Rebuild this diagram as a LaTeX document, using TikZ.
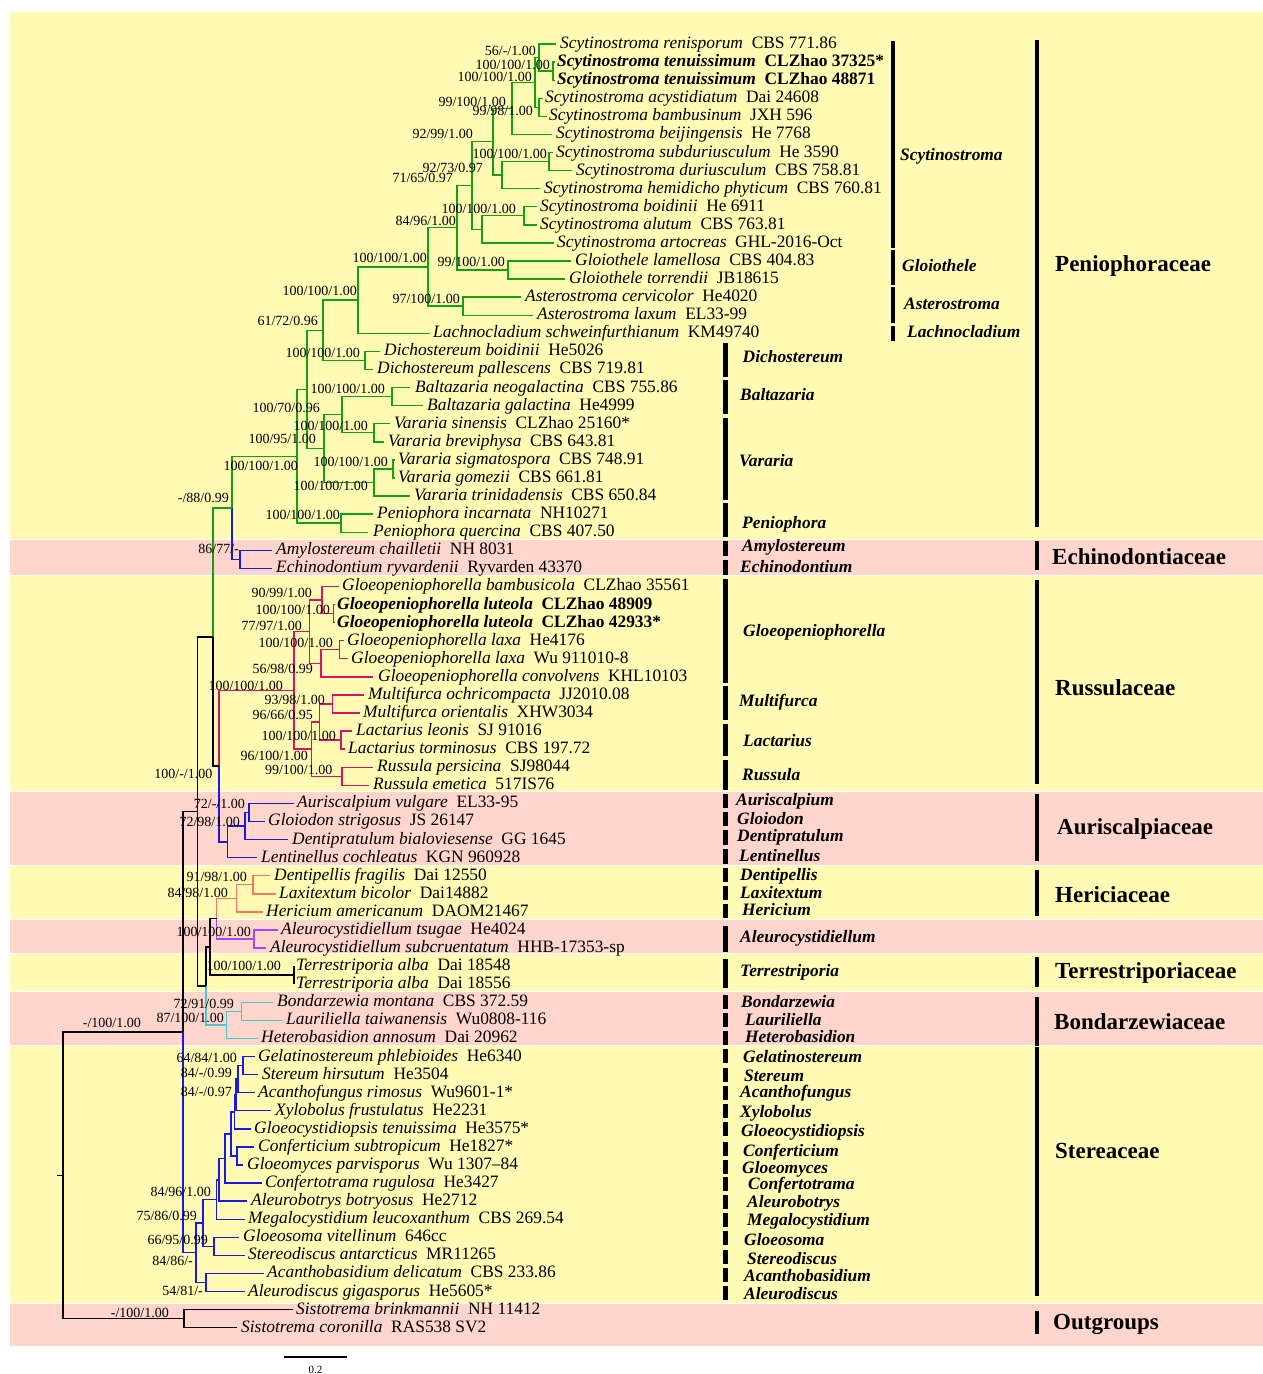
\documentclass[tikz,border=0pt]{standalone}
\usepackage{fontspec}
\setmainfont{Liberation Serif}
\definecolor{bgy}{RGB}{255,250,180}
\definecolor{bgp}{RGB}{255,213,204}
\definecolor{colG}{RGB}{20,160,20}
\definecolor{colB}{RGB}{25,25,230}
\definecolor{colM}{RGB}{215,20,100}
\definecolor{colS}{RGB}{255,115,95}
\definecolor{colV}{RGB}{165,70,255}
\definecolor{colC}{RGB}{70,200,210}
\tikzset{
 br/.style={line width=1.4pt},
 taxon/.style={anchor=base west, inner sep=0pt, font=\fontsize{17.4}{20}\selectfont},
 taxonb/.style={anchor=base west, inner sep=0pt, font=\fontsize{17.4}{20}\selectfont\bfseries},
 lbl/.style={anchor=base east, inner sep=0pt, font=\fontsize{14}{16}\selectfont},
 genus/.style={anchor=base west, inner sep=0pt, font=\fontsize{17.4}{20}\selectfont\bfseries\itshape},
 fam/.style={anchor=base west, inner sep=0pt, font=\fontsize{23}{26}\selectfont\bfseries},
 gbar/.style={line width=4.2pt},
 bandy/.style={fill=bgy, draw=none},
 bandp/.style={fill=bgp, draw=none},
}
\newcommand\lf[6]{\coordinate (#1) at (#2,#4); \node[taxon] (#1t) at (#3,#4+4.5) {\textit{#5}\hspace{0.5em}#6};}
\newcommand\lfb[6]{\coordinate (#1) at (#2,#4); \node[taxonb] (#1t) at (#3,#4+4.5) {\textit{#5}\hspace{0.5em}#6};}
\newcommand\nd[3]{\coordinate (#1) at (#2,#3);}
\newcommand\cn[3]{\draw[br,#3] (#1) |- (#2);}
\newcommand\bs[4]{\node[lbl] (#1) at (#2,#3+4.7) {#4};}
\newcommand\gen[7]{\coordinate (#1a) at (#2,#3); \coordinate (#1b) at (#2,#4); \draw[gbar] (#1a) -- (#1b); \node[genus] (#1) at (#5,#6+5.6) {#7};}
\newcommand\fml[7]{\coordinate (#1a) at (#2,#3); \coordinate (#1b) at (#2,#4); \draw[gbar] (#1a) -- (#1b); \node[fam] (#1) at (#5,#6+7.6) {#7};}
\begin{document}
\begin{tikzpicture}[x=1pt,y=-1pt]
\useasboundingbox (0,0) rectangle (1263,1374);
% background bands
\path[bandy] (10,12) rectangle (1263,538.5);
\path[bandp] (10,539.5) rectangle (1263,574.5);
\path[bandy] (10,575.5) rectangle (1263,790.5);
\path[bandp] (10,791.5) rectangle (1263,865);
\path[bandy] (10,866) rectangle (1263,918.5);
\path[bandp] (10,919.5) rectangle (1263,953);
\path[bandy] (10,954) rectangle (1263,990.7);
\path[bandp] (10,991.7) rectangle (1263,1044.5);
\path[bandy] (10,1045.5) rectangle (1263,1302.5);
\path[bandp] (10,1303.5) rectangle (1263,1346);

% leaves
\lf{L1}{556}{560}{44.0}{Scytinostroma renisporum}{CBS 771.86}
\lfb{L2}{555}{557}{62.1}{Scytinostroma tenuissimum}{CLZhao 37325*}
\lfb{L3}{555}{557}{80.2}{Scytinostroma tenuissimum}{CLZhao 48871}
\lf{L4}{543}{545}{98.2}{Scytinostroma acystidiatum}{Dai 24608}
\lf{L5}{547}{549}{116.3}{Scytinostroma bambusinum}{JXH 596}
\lf{L6}{552}{556}{134.4}{Scytinostroma beijingensis}{He 7768}
\lf{L7}{553}{556}{152.5}{Scytinostroma subduriusculum}{He 3590}
\lf{L8}{572}{576}{170.6}{Scytinostroma duriusculum}{CBS 758.81}
\lf{L9}{540}{544}{188.6}{Scytinostroma hemidicho phyticum}{CBS 760.81}
\lf{L10}{537}{540}{206.7}{Scytinostroma boidinii}{He 6911}
\lf{L11}{537}{540}{224.8}{Scytinostroma alutum}{CBS 763.81}
\lf{L12}{554}{557}{242.9}{Scytinostroma artocreas}{GHL-2016-Oct}
\lf{L13}{571}{575}{261.0}{Gloiothele lamellosa}{CBS 404.83}
\lf{L14}{565}{569}{279.0}{Gloiothele torrendii}{JB18615}
\lf{L15}{521}{525}{297.1}{Asterostroma cervicolor}{He4020}
\lf{L16}{533}{537}{315.2}{Asterostroma laxum}{EL33-99}
\lf{L17}{430}{433}{333.3}{Lachnocladium schweinfurthianum}{KM49740}
\lf{L18}{380}{384}{351.4}{Dichostereum boidinii}{He5026}
\lf{L19}{373}{377}{369.4}{Dichostereum pallescens}{CBS 719.81}
\lf{L20}{410}{415}{387.5}{Baltazaria neogalactina}{CBS 755.86}
\lf{L21}{423}{427}{405.6}{Baltazaria galactina}{He4999}
\lf{L22}{390}{394}{423.7}{Vararia sinensis}{CLZhao 25160*}
\lf{L23}{384}{388}{441.8}{Vararia breviphysa}{CBS 643.81}
\lf{L24}{395}{398}{459.8}{Vararia sigmatospora}{CBS 748.91}
\lf{L25}{395}{398}{477.9}{Vararia gomezii}{CBS 661.81}
\lf{L26}{410}{414}{496.0}{Vararia trinidadensis}{CBS 650.84}
\lf{L27}{373}{377}{514.1}{Peniophora incarnata}{NH10271}
\lf{L28}{368}{373}{532.2}{Peniophora quercina}{CBS 407.50}
\lf{L29}{272}{276}{550.2}{Amylostereum chailletii}{NH 8031}
\lf{L30}{272}{276}{568.3}{Echinodontium ryvardenii}{Ryvarden 43370}
\lf{L31}{339}{342}{586.4}{Gloeopeniophorella bambusicola}{CLZhao 35561}
\lfb{L32}{335}{337}{604.5}{Gloeopeniophorella luteola}{CLZhao 48909}
\lfb{L33}{335}{337}{622.6}{Gloeopeniophorella luteola}{CLZhao 42933*}
\lf{L34}{344}{347}{640.6}{Gloeopeniophorella laxa}{He4176}
\lf{L35}{348}{351}{658.7}{Gloeopeniophorella laxa}{Wu 911010-8}
\lf{L36}{373}{378}{676.8}{Gloeopeniophorella convolvens}{KHL10103}
\lf{L37}{364}{368}{694.9}{Multifurca ochricompacta}{JJ2010.08}
\lf{L38}{360}{363}{713.0}{Multifurca orientalis}{XHW3034}
\lf{L39}{352}{356}{731.0}{Lactarius leonis}{SJ 91016}
\lf{L40}{345}{348}{749.1}{Lactarius torminosus}{CBS 197.72}
\lf{L41}{373}{377}{767.2}{Russula persicina}{SJ98044}
\lf{L42}{369}{373}{785.3}{Russula emetica}{517IS76}
\lf{L43}{294}{297}{803.4}{Auriscalpium vulgare}{EL33-95}
\lf{L44}{265}{268}{821.4}{Gloiodon strigosus}{JS 26147}
\lf{L45}{288}{292}{839.5}{Dentipratulum bialoviesense}{GG 1645}
\lf{L46}{257}{261}{857.6}{Lentinellus cochleatus}{KGN 960928}
\lf{L47}{270}{274}{875.7}{Dentipellis fragilis}{Dai 12550}
\lf{L48}{276}{279}{893.8}{Laxitextum bicolor}{Dai14882}
\lf{L49}{263}{266}{911.8}{Hericium americanum}{DAOM21467}
\lf{L50}{278}{281}{929.9}{Aleurocystidiellum tsugae}{He4024}
\lf{L51}{266}{270}{948.0}{Aleurocystidiellum subcruentatum}{HHB-17353-sp}
\lf{L52}{293.5}{296}{966.1}{Terrestriporia alba}{Dai 18548}
\lf{L53}{293.5}{296}{984.2}{Terrestriporia alba}{Dai 18556}
\lf{L54}{273}{277}{1002.2}{Bondarzewia montana}{CBS 372.59}
\lf{L55}{283}{286}{1020.3}{Lauriliella taiwanensis}{Wu0808-116}
\lf{L56}{258}{261}{1038.4}{Heterobasidion annosum}{Dai 20962}
\lf{L57}{255}{258}{1056.5}{Gelatinostereum phlebioides}{He6340}
\lf{L58}{258}{262}{1074.6}{Stereum hirsutum}{He3504}
\lf{L59}{255}{258}{1092.6}{Acanthofungus rimosus}{Wu9601-1*}
\lf{L60}{271}{275}{1110.7}{Xylobolus frustulatus}{He2231}
\lf{L61}{251}{254}{1128.8}{Gloeocystidiopsis tenuissima}{He3575*}
\lf{L62}{254}{258}{1146.9}{Conferticium subtropicum}{He1827*}
\lf{L63}{243}{247}{1165.0}{Gloeomyces parvisporus}{Wu 1307--84}
\lf{L64}{262}{265}{1183.0}{Confertotrama rugulosa}{He3427}
\lf{L65}{247}{251}{1201.1}{Aleurobotrys botryosus}{He2712}
\lf{L66}{245}{248}{1219.2}{Megalocystidium leucoxanthum}{CBS 269.54}
\lf{L67}{239}{243}{1237.3}{Gloeosoma vitellinum}{646cc}
\lf{L68}{245}{248}{1255.4}{Stereodiscus antarcticus}{MR11265}
\lf{L69}{264}{267}{1273.4}{Acanthobasidium delicatum}{CBS 233.86}
\lf{L70}{245}{248}{1291.5}{Aleurodiscus gigasporus}{He5605*}
\lf{L71}{293}{296}{1309.6}{Sistotrema brinkmannii}{NH 11412}
\lf{L72}{237}{241}{1327.7}{Sistotrema coronilla}{RAS538 SV2}

% internal nodes
\nd{n23}{553}{71.15}
\nd{nA}{539}{57.6}
\nd{n45}{539}{107.25}
\nd{nB}{535}{82.4}
\nd{nC}{512}{108.4}
\nd{n78}{549}{161.55}
\nd{nE}{502}{175.1}
\nd{nD}{493}{141.75}
\nd{n1011}{524}{215.75}
\nd{nG}{482}{229.3}
\nd{nF}{472}{185.5}
\nd{n1314}{508}{270}
\nd{nH}{457}{227.75}
\nd{n1516}{463}{306.15}
\nd{nI}{428}{266.95}
\nd{nJ}{358}{300.1}
\nd{n1819}{365}{360.4}
\nd{nK}{323}{330.25}
\nd{n2021}{392}{396.55}
\nd{n2223}{374}{432.75}
\nd{nM}{342}{414.65}
\nd{n2425}{393}{468.85}
\nd{nN}{374}{482.4}
\nd{nO}{324}{448.5}
\nd{nR}{307}{389.4}
\nd{n2728}{341}{523.15}
\nd{nS}{297}{456.3}
\nd{n2930}{240}{559.25}
\nd{nT}{232}{507.8}
\nd{n3233}{333.5}{613.55}
\nd{nGa}{322}{600}
\nd{n3435}{339.5}{649.65}
\nd{nGb}{321}{663.2}
\nd{nGc}{309.6}{631.6}
\nd{nMf}{332.5}{703.95}
\nd{nLa}{341}{740.05}
\nd{nML}{319.5}{722}
\nd{nRu}{342}{776.25}
\nd{nMLR}{311.4}{749.1}
\nd{nRuss}{294}{690.35}
\nd{nAG}{249}{812.4}
\nd{nAGD}{245}{825.95}
\nd{nAu}{227.4}{841.8}
\nd{nW}{219}{766.1}
\nd{nU}{213}{636.95}
\nd{nDL}{253}{884.75}
\nd{nHe}{236.5}{898.3}
\nd{nAle}{254}{938.95}
\nd{nHA}{216.6}{918.6}
\nd{nTe}{293.5}{975.15}
\nd{nX}{210}{946.9}
\nd{nBL}{241.7}{1011.25}
\nd{nBo}{226.7}{1024.8}
\nd{nY}{206}{985.85}
\nd{nV}{197.7}{811.4}
\nd{nGS}{243}{1065.55}
\nd{nGSA}{238}{1079.1}
\nd{nNa}{236}{1094.9}
\nd{nP}{234.5}{1111.85}
\nd{nCG}{237}{1155.95}
\nd{nNc}{231}{1133.9}
\nd{nNd}{225}{1158.45}
\nd{nNe}{219}{1179.8}
\nd{nNf}{216.5}{1199.5}
\nd{nGs}{214}{1246.35}
\nd{nNg}{203}{1222.9}
\nd{nAa}{206}{1282.45}
\nd{nNh}{196}{1252.7}
\nd{nZ}{183}{1032.05}
\nd{nSi}{184}{1318.65}
\nd{nRoot}{63}{1175.35}
\nd{rootstem}{57}{1175.35}

% connectors: Peniophoraceae
\cn{n23}{L2}{colG}\cn{n23}{L3}{colG}
\cn{nA}{L1}{colG}\cn{nA}{n23}{colG}
\cn{n45}{L4}{colG}\cn{n45}{L5}{colG}
\cn{nB}{nA}{colG}\cn{nB}{n45}{colG}
\cn{nC}{nB}{colG}\cn{nC}{L6}{colG}
\cn{n78}{L7}{colG}\cn{n78}{L8}{colG}
\cn{nE}{n78}{colG}\cn{nE}{L9}{colG}
\cn{nD}{nC}{colG}\cn{nD}{nE}{colG}
\cn{n1011}{L10}{colG}\cn{n1011}{L11}{colG}
\cn{nG}{n1011}{colG}\cn{nG}{L12}{colG}
\cn{nF}{nD}{colG}\cn{nF}{nG}{colG}
\cn{n1314}{L13}{colG}\cn{n1314}{L14}{colG}
\cn{nH}{nF}{colG}\cn{nH}{n1314}{colG}
\cn{n1516}{L15}{colG}\cn{n1516}{L16}{colG}
\cn{nI}{nH}{colG}\cn{nI}{n1516}{colG}
\cn{nJ}{nI}{colG}\cn{nJ}{L17}{colG}
\cn{n1819}{L18}{colG}\cn{n1819}{L19}{colG}
\cn{nK}{nJ}{colG}\cn{nK}{n1819}{colG}
\cn{n2021}{L20}{colG}\cn{n2021}{L21}{colG}
\cn{n2223}{L22}{colG}\cn{n2223}{L23}{colG}
\cn{nM}{n2021}{colG}\cn{nM}{n2223}{colG}
\cn{n2425}{L24}{colG}\cn{n2425}{L25}{colG}
\cn{nN}{n2425}{colG}\cn{nN}{L26}{colG}
\cn{nO}{nM}{colG}\cn{nO}{nN}{colG}
\cn{nR}{nK}{colG}\cn{nR}{nO}{colG}
\cn{n2728}{L27}{colG}\cn{n2728}{L28}{colG}
\cn{nS}{nR}{colG}\cn{nS}{n2728}{colG}
\cn{n2930}{L29}{colB}\cn{n2930}{L30}{colB}
\cn{nT}{nS}{colG}\cn{nT}{n2930}{colB}
% Russulaceae
\cn{n3233}{L32}{colM}\cn{n3233}{L33}{colM}
\cn{nGa}{L31}{colM}\cn{nGa}{n3233}{colM}
\cn{n3435}{L34}{colM}\cn{n3435}{L35}{colM}
\cn{nGb}{n3435}{colM}\cn{nGb}{L36}{colM}
\cn{nGc}{nGa}{colM}\cn{nGc}{nGb}{colM}
\cn{nMf}{L37}{colM}\cn{nMf}{L38}{colM}
\cn{nLa}{L39}{colM}\cn{nLa}{L40}{colM}
\cn{nML}{nMf}{colM}\cn{nML}{nLa}{colM}
\cn{nRu}{L41}{colM}\cn{nRu}{L42}{colM}
\cn{nMLR}{nML}{colM}\cn{nMLR}{nRu}{colM}
\cn{nRuss}{nGc}{colM}\cn{nRuss}{nMLR}{colM}
% Auriscalpiaceae
\cn{nAG}{L43}{colB}\cn{nAG}{L44}{colB}
\cn{nAGD}{nAG}{colB}\cn{nAGD}{L45}{colB}
\cn{nAu}{nAGD}{colB}\cn{nAu}{L46}{colB}
\cn{nW}{nRuss}{colM}\cn{nW}{nAu}{colB}
\cn{nU}{nT}{colG}\cn{nU}{nW}{black}
% Hericiaceae, Aleurocystidiellum, Terrestriporia, Bondarzewiaceae
\cn{nDL}{L47}{colS}\cn{nDL}{L48}{colS}
\cn{nHe}{nDL}{colS}\cn{nHe}{L49}{colS}
\cn{nAle}{L50}{colV}\cn{nAle}{L51}{colV}
\cn{nHA}{nHe}{colS}\cn{nHA}{nAle}{colV}
\cn{nTe}{L52}{black,line width=2pt}\cn{nTe}{L53}{black,line width=2pt}
\cn{nX}{nHA}{black}\cn{nX}{nTe}{black}
\cn{nBL}{L54}{colC}\cn{nBL}{L55}{colC}
\cn{nBo}{nBL}{colC}\cn{nBo}{L56}{colC}
\cn{nY}{nX}{black}\cn{nY}{nBo}{colC}
\cn{nV}{nU}{black}\cn{nV}{nY}{black}
% Stereaceae
\cn{nGS}{L57}{colB}\cn{nGS}{L58}{colB}
\cn{nGSA}{nGS}{colB}\cn{nGSA}{L59}{colB}
\cn{nNa}{nGSA}{colB}\cn{nNa}{L60}{colB}
\cn{nP}{nNa}{colB}\cn{nP}{L61}{colB}
\cn{nCG}{L62}{colB}\cn{nCG}{L63}{colB}
\cn{nNc}{nP}{colB}\cn{nNc}{nCG}{colB}
\cn{nNd}{nNc}{colB}\cn{nNd}{L64}{colB}
\cn{nNe}{nNd}{colB}\cn{nNe}{L65}{colB}
\cn{nNf}{nNe}{colB}\cn{nNf}{L66}{colB}
\cn{nGs}{L67}{colB}\cn{nGs}{L68}{colB}
\cn{nNg}{nNf}{colB}\cn{nNg}{nGs}{colB}
\cn{nAa}{L69}{colB}\cn{nAa}{L70}{colB}
\cn{nNh}{nNg}{colB}\cn{nNh}{nAa}{colB}
\cn{nZ}{nV}{black}\cn{nZ}{nNh}{colB}
% outgroups and root
\cn{nSi}{L71}{black}\cn{nSi}{L72}{black}
\cn{nRoot}{nZ}{black}\cn{nRoot}{nSi}{black}
\draw[br] (rootstem) -- (nRoot);

% support values
\bs{s1}{536}{50.7}{56/-/1.00}
\bs{s2}{550}{64.3}{100/100/1.00}
\bs{s3}{532}{76.7}{100/100/1.00}
\bs{s4}{506}{101.7}{99/100/1.00}
\bs{s5}{533}{111}{99/98/1.00}
\bs{s6}{473}{134}{92/99/1.00}
\bs{s7}{547}{154}{100/100/1.00}
\bs{s8}{483}{167.7}{92/73/0.97}
\bs{s9}{453}{177.3}{71/65/0.97}
\bs{s10}{516}{208.3}{100/100/1.00}
\bs{s11}{456}{220.7}{84/96/1.00}
\bs{s12}{427}{257.7}{100/100/1.00}
\bs{s13}{505}{261.7}{99/100/1.00}
\bs{s14}{357}{291}{100/100/1.00}
\bs{s15}{460}{298.3}{97/100/1.00}
\bs{s16}{318}{320.7}{61/72/0.96}
\bs{s17}{360}{352.7}{100/100/1.00}
\bs{s18}{385}{388.3}{100/100/1.00}
\bs{s19}{320}{407.7}{100/70/0.96}
\bs{s20}{368}{425.7}{100/100/1.00}
\bs{s21}{316}{439}{100/95/1.00}
\bs{s22}{388}{461.7}{100/100/1.00}
\bs{s23}{298}{466}{100/100/1.00}
\bs{s24}{368}{485.7}{100/100/1.00}
\bs{s25}{229}{497.7}{-/88/0.99}
\bs{s26}{340}{515}{100/100/1.00}
\bs{s27}{239}{549}{86/77/-}
\bs{s28}{312}{593}{90/99/1.00}
\bs{s29}{330}{610}{100/100/1.00}
\bs{s30}{302}{625.7}{77/97/1.00}
\bs{s31}{333}{643}{100/100/1.00}
\bs{s32}{313}{669}{56/98/0.99}
\bs{s33}{283}{685.7}{100/100/1.00}
\bs{s34}{325}{700}{93/98/1.00}
\bs{s35}{313}{715}{96/66/0.95}
\bs{s36}{336}{736}{100/100/1.00}
\bs{s37}{308}{756}{96/100/1.00}
\bs{s38}{332.5}{770}{99/100/1.00}
\bs{s39}{212.5}{774}{100/-/1.00}
\bs{s40}{245}{804}{72/-/1.00}
\bs{s41}{240}{821.7}{72/98/1.00}
\bs{s42}{247}{877}{91/98/1.00}
\bs{s43}{228}{892.7}{84/98/1.00}
\bs{s44}{251}{931.7}{100/100/1.00}
\bs{s45}{281}{965.7}{100/100/1.00}
\bs{s46}{234}{1004}{72/91/0.99}
\bs{s47}{224}{1018}{87/100/1.00}
\bs{s48}{141}{1023}{-/100/1.00}
\bs{s49}{237}{1058}{64/84/1.00}
\bs{s50}{232}{1073}{84/-/0.99}
\bs{s51}{232}{1092}{84/-/0.97}
\bs{s52}{211}{1191.7}{84/96/1.00}
\bs{s53}{197}{1216}{75/86/0.99}
\bs{s54}{208}{1240}{66/95/0.99}
\bs{s55}{193}{1261}{84/86/-}
\bs{s56}{203}{1291}{54/81/-}
\bs{s57}{169}{1312.7}{-/100/1.00}

% genus bars
\gen{gScy}{893}{40.5}{247.5}{900}{155}{Scytinostroma}
\gen{gGlo}{893}{249.5}{285}{902}{265.5}{Gloiothele}
\gen{gAst}{893}{287}{322.5}{904}{304}{Asterostroma}
\gen{gLac}{893}{326}{340.5}{907}{332}{Lachnocladium}
\gen{gDic}{725.5}{342.5}{377}{742.5}{356.5}{Dichostereum}
\gen{gBal}{725.5}{380}{414}{740}{395}{Baltazaria}
\gen{gVar}{725.5}{418}{500}{739}{461}{Vararia}
\gen{gPen}{725.5}{503}{537}{742}{523}{Peniophora}
\gen{gAmy}{725.5}{541}{556}{742}{546}{Amylostereum}
\gen{gEch}{725.5}{560}{575}{740}{567}{Echinodontium}
\gen{gGlp}{725.5}{579}{683}{743}{631}{Gloeopeniophorella}
\gen{gMul}{725.5}{686}{720}{739}{701}{Multifurca}
\gen{gLct}{725.5}{724}{756}{743}{741}{Lactarius}
\gen{gRus}{725.5}{760}{790}{742}{775}{Russula}
\gen{gAur}{725.5}{794}{808}{736}{800}{Auriscalpium}
\gen{gGld}{725.5}{812}{826}{737}{819}{Gloiodon}
\gen{gDnt}{725.5}{830}{845}{737}{836}{Dentipratulum}
\gen{gLen}{725.5}{849}{864}{739}{856}{Lentinellus}
\gen{gDpl}{725.5}{868}{882}{740}{875}{Dentipellis}
\gen{gLax}{725.5}{886}{900}{740}{893}{Laxitextum}
\gen{gHer}{725.5}{904}{918}{742}{910}{Hericium}
\gen{gAlc}{725.5}{926}{952}{740}{937}{Aleurocystidiellum}
\gen{gTer}{725.5}{959}{988}{740}{971}{Terrestriporia}
\gen{gBon}{725.5}{995}{1009}{741}{1002}{Bondarzewia}
\gen{gLau}{725.5}{1013}{1027}{745}{1020}{Lauriliella}
\gen{gHet}{725.5}{1031}{1045}{745}{1037}{Heterobasidion}
\gen{gGel}{725.5}{1049}{1063}{743}{1057}{Gelatinostereum}
\gen{gSte}{725.5}{1068}{1082}{744}{1076}{Stereum}
\gen{gAcf}{725.5}{1086}{1100}{740}{1092}{Acanthofungus}
\gen{gXyl}{725.5}{1104}{1118}{740}{1112}{Xylobolus}
\gen{gGcd}{725.5}{1122}{1136}{741}{1131}{Gloeocystidiopsis}
\gen{gCon}{725.5}{1142}{1156}{743}{1151}{Conferticium}
\gen{gGmy}{725.5}{1160}{1174}{742}{1168}{Gloeomyces}
\gen{gCft}{725.5}{1177}{1191}{748}{1184}{Confertotrama}
\gen{gAlb}{725.5}{1195}{1209}{747}{1202}{Aleurobotrys}
\gen{gMeg}{725.5}{1213}{1227}{747}{1220}{Megalocystidium}
\gen{gGls}{725.5}{1231}{1245}{744}{1240}{Gloeosoma}
\gen{gStd}{725.5}{1250}{1264}{747}{1259}{Stereodiscus}
\gen{gAcb}{725.5}{1268}{1282}{744}{1276}{Acanthobasidium}
\gen{gAld}{725.5}{1286}{1300}{744}{1294}{Aleurodiscus}

% family bars
\fml{fPen}{1037}{39.5}{527}{1055}{264}{Peniophoraceae}
\fml{fEch}{1037}{541}{570}{1052}{557}{Echinodontiaceae}
\fml{fRus}{1037}{580}{784}{1055}{688}{Russulaceae}
\fml{fAur}{1037}{794}{861}{1057}{827}{Auriscalpiaceae}
\fml{fHer}{1037}{870}{916}{1055}{895}{Hericiaceae}
\fml{fTer}{1037}{957}{987}{1055}{971}{Terrestriporiaceae}
\fml{fBon}{1037}{997}{1046}{1054}{1022}{Bondarzewiaceae}
\fml{fSte}{1037}{1047}{1296}{1055}{1151}{Stereaceae}
\fml{fOut}{1037}{1311}{1334}{1053}{1322}{Outgroups}

% scale bar
\coordinate (sbA) at (284,1357);
\coordinate (sbB) at (347,1357);
\draw[line width=1.5pt] (sbA) -- (sbB);
\node[anchor=base, inner sep=0pt, font=\fontsize{11}{12}\selectfont] (sbl) at (315.5,1373) {0.2};
\end{tikzpicture}
\end{document}
